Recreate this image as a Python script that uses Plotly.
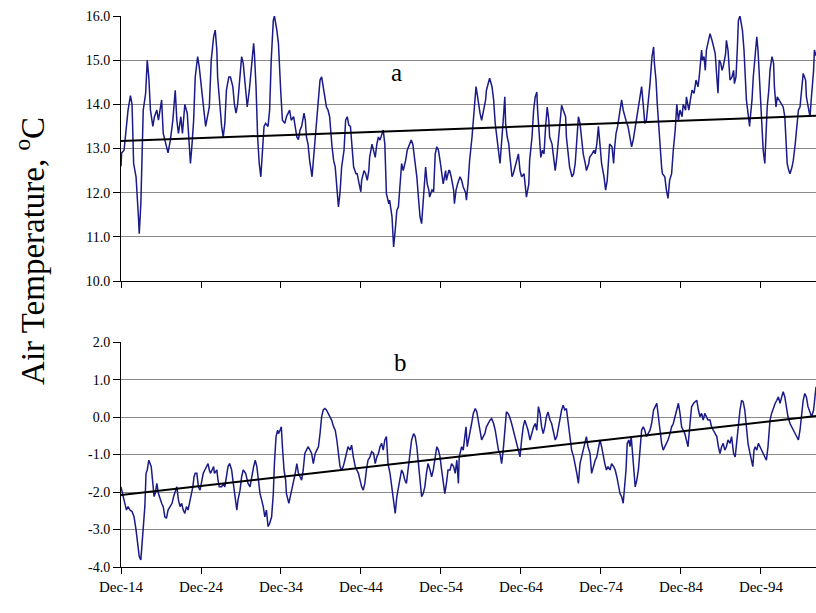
import plotly.graph_objects as go

# ---------------- data ----------------
a_years = [1914.92,1915.0,1915.3,1915.6,1915.8,1916.1,1916.3,1916.5,1916.8,1917.1,1917.2,1917.4,1917.5,1917.7,1918.0,1918.2,1918.4,1918.6,1918.9,1919.1,1919.4,1919.6,1919.8,1920.0,1920.2,1920.4,1920.6,1920.8,1921.1,1921.4,1921.7,1921.9,1922.1,1922.4,1922.6,1922.9,1923.2,1923.5,1923.6,1923.8,1924.0,1924.2,1924.5,1924.7,1925.0,1925.2,1925.5,1925.7,1925.96,1926.2,1926.5,1926.7,1926.9,1927.0,1927.3,1927.5,1927.7,1927.9,1928.1,1928.4,1928.6,1928.9,1929.1,1929.3,1929.5,1929.8,1930.0,1930.2,1930.5,1930.7,1930.96,1931.2,1931.5,1931.6,1931.8,1932.0,1932.2,1932.4,1932.5,1932.8,1933.0,1933.3,1933.5,1933.7,1933.96,1934.1,1934.4,1934.6,1934.9,1935.1,1935.4,1935.6,
           1936.0,1936.2,1936.5,1936.7,1936.9,1937.1,1937.3,1937.5,1937.8,1937.96,1938.1,1938.3,1938.5,1938.8,1939.0,1939.2,1939.4,1939.6,1939.8,1940.0,1940.2,1940.4,1940.6,1940.8,1941.0,1941.3,1941.5,1941.7,1941.9,1942.1,1942.3,1942.5,1942.8,1943.0,1943.2,1943.4,1943.6,1943.8,1944.0,1944.3,1944.45,1944.6,1944.9,1945.0,1945.3,1945.5,1945.7,1945.9,1946.0,1946.3,1946.5,1946.7,1946.9,1947.1,1947.3,1947.5,1947.7,1947.9,1948.1,1948.4,1948.5,1948.8,1949.0,1949.2,1949.4,1949.6,1949.8,1950.0,1950.2,1950.5,1950.7,1951.0,1951.2,1951.4,1951.6,1951.9,1952.1,1952.3,1952.5,1952.7,1952.9,1953.0,1953.2,1953.4,1953.5,1953.8,1954.0,1954.2,1954.4,1954.6,1954.8,1955.0,1955.2,1955.5,1955.6,1955.9,
           1956.0,1956.2,1956.5,1956.6,1956.8,1957.0,1957.3,1957.5,1957.7,1958.0,1958.1,1958.3,1958.5,1958.8,1959.0,1959.2,1959.3,1959.5,1959.6,1959.8,1960.0,1960.2,1960.5,1960.6,1960.9,1961.0,1961.3,1961.5,1961.7,1961.9,1962.1,1962.3,1962.5,1962.7,1962.9,1963.0,1963.2,1963.4,1963.5,1963.8,1963.96,1964.2,1964.4,1964.6,1964.8,1965.0,1965.3,1965.5,1965.6,1965.9,1966.0,1966.3,1966.5,1966.7,1966.9,1967.0,1967.2,1967.4,1967.6,1967.8,1968.0,1968.2,1968.4,1968.5,1968.8,1969.0,1969.2,1969.4,1969.6,1969.8,1970.0,1970.2,1970.5,1970.6,1970.9,1971.0,1971.3,1971.5,1971.7,1971.9,1972.1,1972.3,1972.5,1972.7,1972.96,1973.1,1973.4,1973.5,1973.8,1974.05,1974.2,1974.4,1974.6,1974.8,1975.0,1975.3,1975.5,1975.7,1975.9,1976.0,1976.3,1976.5,1976.6,1976.8,1977.0,
           1977.5,1977.7,1977.9,1978.1,1978.3,1978.5,1978.75,1978.96,1979.2,1979.4,1979.6,1979.8,1980.0,1980.2,1980.4,1980.6,1980.9,1981.05,1981.3,1981.5,1981.6,1981.8,1981.96,1982.1,1982.3,1982.5,1982.6,1982.9,1983.1,1983.3,1983.5,1983.75,1983.96,1984.2,1984.4,1984.6,1984.8,1985.05,1985.2,1985.5,1985.6,1985.9,1986.1,1986.3,1986.55,1986.8,1987.05,1987.2,1987.5,1987.6,1987.8,1987.96,1988.1,1988.4,1988.55,1988.8,1988.96,1989.2,1989.4,1989.55,1989.7,1989.9,1990.05,1990.2,1990.5,1990.6,1990.8,1991.05,1991.3,1991.5,1991.6,1991.8,1991.96,1992.1,1992.3,1992.5,1992.6,1992.8,1992.96,1993.1,1993.3,1993.5,1993.6,1993.8,1993.96,1994.2,1994.4,1994.55,1994.7,1994.9,1995.05,1995.2,1995.4,1995.55,1995.7,1995.9,1996.05,1996.3,1996.5,1996.6,1996.8,1996.96,1997.2,1997.5,1997.7,1997.9,1998.05,1998.2,1998.4,1998.55,1998.8,1998.96,1999.2,1999.4,1999.6,1999.8,2000.05,2000.2,2000.5,2000.6,2000.9,2001.05,2001.2,2001.5,2001.6,2001.8]
a_temp = [12.6,12.9,12.96,13.5,13.87,14.2,14.0,12.66,12.36,11.45,11.07,11.75,12.36,13.87,14.25,15.0,14.6,13.87,13.5,13.72,13.87,13.64,13.87,14.1,13.34,13.2,13.1,12.9,13.2,13.64,14.32,13.64,13.34,13.72,13.34,14.0,13.8,12.96,12.66,13.1,13.64,14.62,15.08,14.85,14.4,14.0,13.5,13.72,13.94,15.0,15.53,15.68,15.23,14.62,13.8,13.5,13.26,13.57,14.32,14.62,14.62,14.4,14.0,13.8,14.0,14.62,15.08,14.93,14.4,13.94,14.32,14.85,15.38,15.15,14.4,13.26,12.66,12.36,12.73,13.5,13.57,13.5,13.87,15.0,15.9,16.0,15.68,15.38,14.25,13.64,13.57,13.72,
          13.87,13.64,13.72,13.5,13.26,13.2,13.42,13.5,13.8,13.64,13.26,13.1,12.73,12.36,12.8,13.34,13.87,14.25,14.55,14.62,14.4,14.17,13.94,13.87,13.72,13.04,12.73,12.58,12.06,11.68,12.0,12.58,12.96,13.64,13.72,13.53,13.5,13.1,12.58,12.43,12.43,12.28,12.02,12.28,12.5,12.43,12.28,12.5,12.8,13.1,12.96,12.8,13.1,13.26,13.19,13.34,13.42,13.1,11.98,11.75,11.83,11.45,10.77,11.15,11.6,11.68,12.28,12.66,12.5,12.73,12.96,13.1,13.19,13.1,12.8,12.36,11.9,11.45,11.3,11.75,12.2,12.58,12.2,12.06,11.9,12.06,12.02,12.88,13.04,12.96,12.73,12.43,12.2,12.5,12.28,12.5,
          12.5,12.36,12.06,11.75,12.06,12.2,12.36,12.28,12.13,12.0,11.83,12.2,12.73,13.26,13.72,14.17,14.4,14.17,14.0,13.8,13.64,13.8,14.1,14.32,14.55,14.59,14.4,14.1,13.57,13.2,12.96,12.66,13.26,13.64,14.17,13.57,13.26,13.1,12.88,12.36,12.43,12.58,12.73,12.88,12.5,12.36,12.43,12.06,11.9,12.2,12.73,13.26,13.87,14.17,14.28,13.87,13.26,12.8,12.96,12.88,13.5,13.94,13.64,13.26,13.1,12.8,12.5,12.8,13.19,13.72,13.98,13.87,13.72,13.26,12.8,12.58,12.36,12.43,12.66,13.1,13.72,13.57,13.26,12.88,12.66,12.5,12.66,12.8,12.88,12.96,12.88,13.1,13.5,13.1,12.66,12.36,12.06,12.28,12.73,13.1,13.04,12.66,12.96,13.34,13.5,
          14.1,13.87,13.72,13.6,13.5,13.26,13.04,13.2,13.5,13.64,13.94,14.25,14.4,14.0,13.57,13.64,14.1,14.47,15.08,15.3,14.93,14.55,14.0,13.57,13.04,12.58,12.43,12.36,12.06,11.87,12.28,12.43,12.96,13.42,14.0,13.64,13.87,13.72,14.0,13.87,14.17,13.87,14.1,14.32,14.25,14.55,14.4,14.62,15.23,15.0,15.08,14.77,15.23,15.53,15.6,15.45,15.3,15.15,14.62,14.25,15.0,14.93,14.77,14.85,15.15,15.45,15.23,14.55,14.62,14.77,14.47,14.62,15.23,15.9,16.0,15.83,15.68,15.23,14.62,14.1,13.8,13.5,13.72,14.1,14.62,15.08,15.53,15.23,14.62,14.0,13.5,12.96,12.66,13.26,13.94,14.32,14.77,15.08,14.93,14.4,13.94,14.17,14.1,14.0,13.94,13.72,13.1,12.66,12.5,12.43,12.58,12.73,13.1,13.57,13.87,13.94,14.47,14.7,14.55,14.17,13.87,13.72,14.1,14.77,15.23,15.1]

b_years = [1914.92,1915.05,1915.2,1915.4,1915.6,1915.8,1916.05,1916.3,1916.55,1916.8,1917.05,1917.2,1917.4,1917.55,1917.7,1917.9,1918.05,1918.2,1918.4,1918.55,1918.7,1918.9,1919.05,1919.2,1919.4,1919.6,1919.8,1920.0,1920.2,1920.4,1920.6,1920.8,1921.05,1921.3,1921.5,1921.7,1921.9,1922.1,1922.3,1922.5,1922.7,1922.9,1923.1,1923.3,1923.5,1923.7,1923.9,1924.05,1924.2,1924.4,1924.6,1924.8,1925.0,1925.2,1925.4,1925.6,1925.8,1925.96,1926.1,1926.3,1926.5,1926.6,1926.9,1927.05,1927.2,1927.5,1927.7,1927.9,1928.1,1928.3,1928.5,1928.75,1928.96,1929.2,1929.4,1929.55,1929.8,1930.0,1930.2,1930.5,1930.6,1930.8,1931.05,1931.25,1931.5,1931.7,1931.9,1932.1,1932.3,1932.5,1932.7,1932.9,1933.1,1933.3,1933.5,1933.75,1933.96,1934.1,1934.3,1934.5,1934.6,1934.8,1934.96,1935.1,1935.3,1935.5,1935.6,1935.9,
           1936.25,1936.5,1936.7,1936.9,1937.1,1937.3,1937.5,1937.7,1937.9,1938.1,1938.3,1938.55,1938.75,1938.96,1939.2,1939.4,1939.6,1939.8,1940.0,1940.2,1940.4,1940.6,1940.8,1941.05,1941.25,1941.5,1941.7,1941.9,1942.1,1942.3,1942.5,1942.7,1942.9,1943.1,1943.3,1943.55,1943.75,1943.96,1944.2,1944.4,1944.6,1944.8,1945.0,1945.2,1945.4,1945.6,1945.8,1946.05,1946.25,1946.5,1946.7,1946.9,1947.1,1947.3,1947.5,1947.7,1947.9,1948.1,1948.3,1948.55,1948.75,1948.96,1949.2,1949.4,1949.6,1949.8,1950.0,1950.2,1950.4,1950.6,1950.8,1951.05,1951.25,1951.5,1951.7,1951.9,1952.1,1952.3,1952.5,1952.7,1952.9,1953.1,1953.3,1953.55,1953.75,1953.96,1954.2,1954.4,1954.6,1954.8,1955.0,1955.2,1955.4,1955.6,1955.8,
           1956.05,1956.25,1956.5,1956.7,1956.9,1957.1,1957.2,1957.4,1957.5,1957.7,1957.9,1958.05,1958.2,1958.4,1958.55,1958.75,1958.96,1959.2,1959.4,1959.6,1959.8,1960.0,1960.2,1960.4,1960.6,1960.8,1961.05,1961.25,1961.5,1961.7,1961.9,1962.1,1962.3,1962.5,1962.7,1962.9,1963.1,1963.3,1963.5,1963.75,1963.96,1964.2,1964.4,1964.6,1964.8,1965.0,1965.2,1965.4,1965.6,1965.8,1966.05,1966.25,1966.5,1966.7,1966.9,1967.1,1967.3,1967.5,1967.7,1967.9,1968.1,1968.3,1968.55,1968.75,1968.96,1969.2,1969.4,1969.6,1969.8,1970.0,1970.2,1970.4,1970.6,1970.8,1971.05,1971.25,1971.5,1971.7,1971.9,1972.1,1972.3,1972.5,1972.7,1972.9,1973.1,1973.3,1973.55,1973.75,1973.96,1974.2,1974.4,1974.6,1974.8,1975.0,1975.2,1975.4,1975.6,1975.8,1976.05,1976.25,1976.5,1976.7,1976.9,1977.1,1977.3,1977.5,1977.7,
           1978.05,1978.2,1978.4,1978.55,1978.7,1978.9,1979.05,1979.2,1979.4,1979.6,1979.8,1980.0,1980.2,1980.4,1980.6,1980.8,1981.05,1981.25,1981.5,1981.7,1981.9,1982.1,1982.3,1982.5,1982.7,1982.9,1983.1,1983.3,1983.55,1983.75,1983.96,1984.2,1984.4,1984.6,1984.8,1985.0,1985.2,1985.4,1985.6,1985.8,1986.05,1986.25,1986.5,1986.7,1986.9,1987.1,1987.3,1987.5,1987.7,1987.9,1988.1,1988.3,1988.55,1988.75,1988.96,1989.2,1989.4,1989.6,1989.8,1990.0,1990.2,1990.4,1990.6,1990.8,1991.05,1991.25,1991.5,1991.7,1991.9,1992.1,1992.3,1992.5,1992.7,1992.9,1993.1,1993.3,1993.55,1993.75,1993.9,1994.05,1994.2,1994.4,1994.6,1994.8,1995.0,1995.2,1995.4,1995.6,1995.8,1996.05,1996.25,1996.5,1996.7,1996.9,1997.1,1997.3,1997.5,1997.7,1997.9,1998.1,1998.3,1998.55,1998.75,1998.96,1999.2,1999.4,1999.6,1999.8,2000.0,2000.2,2000.4,2000.6,2000.8,2001.05,2001.25,2001.5,2001.7,2001.8]
b_temp = [-1.86,-2.04,-2.12,-2.3,-2.48,-2.39,-2.48,-2.52,-2.66,-3.01,-3.37,-3.72,-3.81,-3.37,-2.92,-2.39,-1.5,-1.41,-1.15,-1.24,-1.32,-1.77,-2.12,-2.04,-1.77,-2.04,-2.21,-2.3,-2.39,-2.66,-2.7,-2.48,-2.39,-2.3,-2.12,-1.95,-1.86,-2.21,-2.39,-2.3,-2.48,-2.57,-2.39,-2.48,-2.3,-2.12,-1.86,-1.59,-1.5,-1.5,-1.86,-1.95,-1.68,-1.5,-1.41,-1.32,-1.24,-1.41,-1.5,-1.41,-1.32,-1.5,-1.41,-1.68,-1.86,-1.86,-1.77,-1.86,-1.59,-1.32,-1.24,-1.41,-1.77,-2.12,-2.48,-2.21,-1.95,-1.59,-1.41,-1.5,-1.59,-1.77,-1.86,-1.59,-1.32,-1.15,-1.32,-1.68,-2.04,-2.21,-2.39,-2.66,-2.48,-2.92,-2.84,-2.66,-2.04,-1.24,-0.52,-0.35,-0.44,-0.35,-0.26,-0.79,-1.41,-1.68,-2.04,-2.3,
          -1.95,-1.77,-1.5,-1.24,-1.5,-1.59,-1.68,-1.41,-0.97,-0.88,-0.79,-0.88,-0.97,-1.24,-0.97,-0.88,-0.79,-0.44,0.01,0.19,0.23,0.19,0.1,0.01,-0.08,-0.26,-0.35,-0.61,-0.97,-1.32,-1.41,-1.32,-1.15,-0.97,-0.79,-0.88,-0.75,-1.06,-1.32,-1.41,-1.5,-1.68,-1.86,-1.95,-1.77,-1.41,-1.15,-1.06,-0.92,-0.97,-1.24,-1.06,-0.97,-0.79,-0.7,-0.88,-0.61,-0.52,-1.24,-1.5,-1.86,-2.21,-2.57,-2.12,-1.86,-1.59,-1.41,-1.5,-1.68,-1.77,-1.41,-1.06,-0.61,-0.44,-0.52,-0.79,-1.24,-1.77,-2.12,-2.04,-1.86,-1.5,-1.24,-1.41,-1.59,-1.41,-1.06,-0.79,-0.88,-1.06,-1.41,-1.77,-2.04,-1.77,-1.41,
          -1.41,-1.24,-1.32,-1.5,-1.15,-1.77,-1.06,-0.88,-0.79,-0.88,-0.52,-0.26,-0.79,-0.52,-0.35,-0.17,0.1,0.23,0.14,-0.08,-0.35,-0.61,-0.52,-0.44,-0.26,-0.17,-0.08,-0.04,-0.17,-0.35,-0.61,-0.88,-0.97,-1.24,-0.88,-0.35,0.14,0.1,0.01,-0.17,-0.35,-0.61,-0.7,-0.88,-1.06,-0.61,-0.26,-0.08,-0.21,-0.35,-0.61,-0.44,-0.26,-0.17,-0.35,0.28,0.1,-0.26,-0.44,-0.26,0.01,0.14,-0.08,-0.17,-0.35,-0.61,-0.52,-0.26,-0.08,0.19,0.32,0.19,0.23,-0.08,-0.61,-0.88,-1.06,-1.24,-1.5,-1.77,-1.24,-1.06,-0.88,-0.7,-0.52,-0.79,-0.97,-1.5,-1.32,-1.15,-1.06,-0.79,-0.61,-0.79,-1.06,-1.24,-1.41,-1.32,-1.41,-1.24,-1.32,-1.41,-1.59,-1.86,-2.04,-2.12,-2.3,
          -1.41,-0.7,-0.61,-0.79,-0.52,-1.06,-1.5,-1.86,-1.68,-1.41,-0.88,-0.35,-0.26,-0.35,-0.52,-0.44,-0.35,-0.17,0.19,0.28,0.37,0.01,-0.35,-0.7,-0.88,-0.79,-0.7,-0.61,-0.44,-0.26,-0.17,0.01,0.19,0.37,0.1,-0.26,-0.35,-0.44,-0.61,-0.79,-0.17,0.28,0.37,0.41,0.45,0.19,0.01,0.1,-0.08,0.1,0.01,-0.08,-0.08,-0.26,-0.35,-0.44,-0.52,-0.79,-0.97,-0.79,-0.7,-0.88,-0.79,-0.61,-0.7,-0.52,-0.97,-1.06,-0.61,-0.17,0.19,0.45,0.41,0.19,-0.26,-0.7,-0.97,-1.24,-1.32,-0.88,-0.79,-0.88,-0.7,-0.79,-0.88,-0.97,-1.06,-1.15,-0.79,-0.08,0.1,0.28,0.37,0.45,0.54,0.37,0.54,0.68,0.54,0.28,0.01,-0.17,-0.26,-0.35,-0.44,-0.52,-0.61,-0.35,0.1,0.45,0.63,0.54,0.28,0.1,0.01,0.19,0.63,0.81]

trend_years = [1914.92, 2001.8]
a_trend = [13.17, 13.74]
b_trend = [-2.08, 0.03]

tick_years = [1914.92, 1924.92, 1934.92, 1944.92, 1954.92, 1964.92, 1974.92, 1984.92, 1994.92]
tick_labels = ["Dec-14", "Dec-24", "Dec-34", "Dec-44", "Dec-54", "Dec-64", "Dec-74", "Dec-84", "Dec-94"]
a_ticks = [10, 11, 12, 13, 14, 15, 16]
a_tick_labels = ["10.0", "11.0", "12.0", "13.0", "14.0", "15.0", "16.0"]
b_ticks = [-4, -3, -2, -1, 0, 1, 2]
b_tick_labels = ["-4.0", "-3.0", "-2.0", "-1.0", "0.0", "1.0", "2.0"]

# ---------------- figure ----------------
SERIF = "Liberation Serif, Times New Roman, serif"
LINE_COLOR = "#1a1a88"

fig = go.Figure()
fig.add_trace(go.Scatter(x=a_years, y=a_temp, mode="lines",
                         line=dict(color=LINE_COLOR, width=1.5), xaxis="x", yaxis="y",
                         showlegend=False, hoverinfo="skip"))
fig.add_trace(go.Scatter(x=trend_years, y=a_trend, mode="lines",
                         line=dict(color="black", width=2), xaxis="x", yaxis="y",
                         showlegend=False, hoverinfo="skip"))
fig.add_trace(go.Scatter(x=b_years, y=b_temp, mode="lines",
                         line=dict(color=LINE_COLOR, width=1.5), xaxis="x2", yaxis="y2",
                         showlegend=False, hoverinfo="skip"))
fig.add_trace(go.Scatter(x=trend_years, y=b_trend, mode="lines",
                         line=dict(color="black", width=2), xaxis="x2", yaxis="y2",
                         showlegend=False, hoverinfo="skip"))

xr = [trend_years[0], trend_years[1]]
common_x = dict(range=xr, tickmode="array", tickvals=tick_years, ticks="outside",
                ticklen=6, tickwidth=1, tickcolor="black", showline=True,
                linecolor="black", linewidth=1, showgrid=False, zeroline=False)
common_y = dict(tickmode="array", ticks="outside", ticklen=7, tickwidth=1,
                tickcolor="black", showline=True, linecolor="black", linewidth=1,
                showgrid=True, gridcolor="#8a8a8a", gridwidth=1, zeroline=False,
                tickfont=dict(family=SERIF, size=14, color="black"))

fig.update_layout(
    width=816, height=613, autosize=False,
    margin=dict(l=121, r=0, t=16, b=46),
    paper_bgcolor="white", plot_bgcolor="white",
    xaxis=dict(domain=[0, 1], anchor="y", showticklabels=False, **common_x),
    yaxis=dict(domain=[0.519, 1], anchor="x", range=[10, 16],
               tickvals=a_ticks, ticktext=a_tick_labels, **common_y),
    xaxis2=dict(domain=[0, 1], anchor="y2", ticktext=tick_labels,
                tickfont=dict(family=SERIF, size=15, color="black"), **common_x),
    yaxis2=dict(domain=[0, 0.408], anchor="x2", range=[-4, 2],
                tickvals=b_ticks, ticktext=b_tick_labels, **common_y),
    annotations=[
        dict(text="Air Temperature, <sup>o</sup>C", textangle=-90,
             xref="paper", yref="paper",
             x=-0.13, y=0.573, xanchor="center", yanchor="middle", showarrow=False,
             font=dict(family=SERIF, size=33, color="black")),
        dict(text="a", xref="x", yref="y", x=1949.3, y=14.71, showarrow=False,
             font=dict(family=SERIF, size=25, color="black")),
        dict(text="b", xref="x2", yref="y2", x=1949.8, y=1.47, showarrow=False,
             font=dict(family=SERIF, size=25, color="black")),
    ],
)

fig.write_html("out.html")
